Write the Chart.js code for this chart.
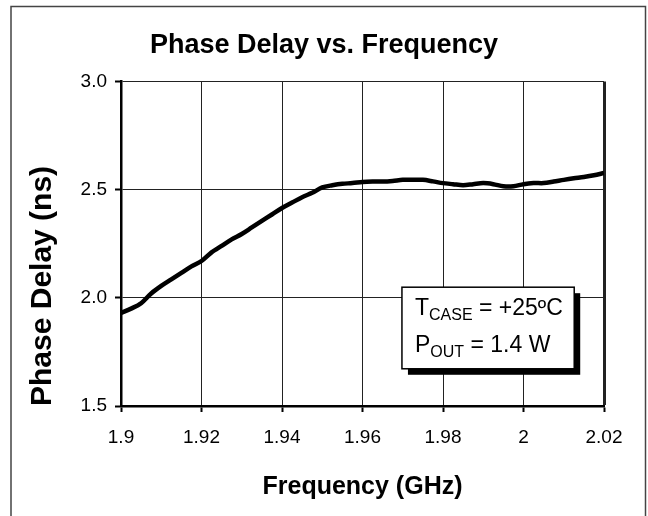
<!DOCTYPE html>
<html>
<head>
<meta charset="utf-8">
<script src="https://cdn.jsdelivr.net/npm/chart.js@4/dist/chart.umd.min.js"></script>
<style>
  html, body { margin: 0; padding: 0; background: #fff; }
  #wrap { width: 648px; height: 516px; position: relative; }
</style>
</head>
<body>
<div id="wrap"><canvas id="chart" width="648" height="516"></canvas></div>
<script>
// ---- data ----
const freqGHz = [
    1.9000, 1.9025, 1.9050, 1.9075, 1.9100, 1.9125, 1.9150, 1.9175, 1.9200, 1.9225,
    1.9250, 1.9275, 1.9300, 1.9325, 1.9350, 1.9375, 1.9400, 1.9425, 1.9450, 1.9475,
    1.9500, 1.9525, 1.9550, 1.9575, 1.9600, 1.9625, 1.9650, 1.9675, 1.9700, 1.9725,
    1.9750, 1.9775, 1.9800, 1.9825, 1.9850, 1.9875, 1.9900, 1.9925, 1.9950, 1.9975,
    2.0000, 2.0025, 2.0050, 2.0075, 2.0100, 2.0125, 2.0150, 2.0175, 2.0200
];
const delayNs = [
    1.930, 1.950, 1.975, 2.020, 2.055, 2.085, 2.115, 2.145, 2.170, 2.210,
    2.240, 2.270, 2.295, 2.325, 2.355, 2.385, 2.415, 2.440, 2.465, 2.485,
    2.510, 2.520, 2.527, 2.530, 2.535, 2.537, 2.537, 2.540, 2.545, 2.545,
    2.545, 2.538, 2.530, 2.525, 2.520, 2.525, 2.530, 2.525, 2.515, 2.515,
    2.525, 2.530, 2.530, 2.537, 2.545, 2.552, 2.558, 2.566, 2.577
];
const xTickLabels = ['1.9', '1.92', '1.94', '1.96', '1.98', '2', '2.02'];
const yTickLabels = ['1.5', '2.0', '2.5', '3.0'];

const FONT = "'Liberation Sans', Arial, sans-serif";

// ---- frame + annotation box ----
const decorPlugin = {
    id: 'decor',
    beforeDraw(chart) {
        const ctx = chart.ctx;
        ctx.save();
        ctx.fillStyle = '#fff';
        ctx.fillRect(0, 0, chart.width, chart.height);
        ctx.strokeStyle = '#444';
        ctx.lineWidth = 1.5;
        ctx.strokeRect(11, 6.5, 634.5, 520);
        ctx.restore();
    },
    afterDraw(chart) {
        const ctx = chart.ctx;
        const xs = chart.scales.x, ys = chart.scales.y;
        const left = xs.getPixelForValue(1.9698), right = xs.getPixelForValue(2.0126);
        const top = ys.getPixelForValue(2.049), bottom = ys.getPixelForValue(1.672);
        ctx.save();
        // shadow
        ctx.fillStyle = '#000';
        ctx.fillRect(left + 6, top + 6, right - left, bottom - top);
        ctx.fillStyle = '#fff';
        ctx.fillRect(left, top, right - left, bottom - top);
        ctx.strokeStyle = '#000';
        ctx.lineWidth = 1.5;
        ctx.strokeRect(left, top, right - left, bottom - top);

        const big = "23px " + FONT, small = "16px " + FONT;
        ctx.fillStyle = '#000';
        ctx.textBaseline = 'alphabetic';
        ctx.textAlign = 'left';
        const rows = [['T', 'CASE', ' = +25\u00BAC', 28], ['P', 'OUT', ' = 1.4 W', 65]];
        rows.forEach(r => {
            let x = left + 13;
            const base = top + r[3];
            ctx.font = big; ctx.fillText(r[0], x, base); x += ctx.measureText(r[0]).width;
            ctx.font = small; ctx.fillText(r[1], x, base + 5); x += ctx.measureText(r[1]).width;
            ctx.font = big; ctx.fillText(r[2], x, base);
        });
        ctx.restore();
    }
};

new Chart(document.getElementById('chart'), {
    type: 'line',
    data: {
        datasets: [{
            data: freqGHz.map((f, i) => ({ x: f, y: delayNs[i] })),
            borderColor: '#000',
            borderWidth: 4.5,
            pointRadius: 0,
            tension: 0.3,
            fill: false
        }]
    },
    options: {
        responsive: false,
        animation: false,
        devicePixelRatio: 1,
        layout: { padding: 0 },
        plugins: {
            legend: { display: false },
            tooltip: { enabled: false },
            title: {
                display: true,
                text: 'Phase Delay vs. Frequency',
                color: '#000',
                font: { family: FONT, size: 27, weight: 'bold' },
                padding: { top: 29, bottom: 20 }
            }
        },
        scales: {
            x: {
                type: 'linear',
                min: 1.9, max: 2.02,
                afterBuildTicks: s => { s.ticks = xTickLabels.map(v => ({ value: parseFloat(v) })); },
                afterFit: s => { s.height = 110; },
                ticks: {
                    color: '#000',
                    font: { family: FONT, size: 19 },
                    padding: 14,
                    maxRotation: 0,
                    callback: (v, i) => xTickLabels[i]
                },
                grid: {
                    color: '#222',
                    lineWidth: c => (c.index === xTickLabels.length - 1 ? 3 : 1),
                    tickLength: 6,
                    tickColor: '#000',
                    tickWidth: 2
                },
                border: { display: true, color: '#000', width: 2.5 },
                title: {
                    display: true,
                    text: 'Frequency (GHz)',
                    color: '#000',
                    font: { family: FONT, size: 25, weight: 'bold' },
                    padding: { top: 0, bottom: 14 }
                }
            },
            y: {
                type: 'linear',
                min: 1.5, max: 3.0,
                afterBuildTicks: s => { s.ticks = yTickLabels.map(v => ({ value: parseFloat(v) })); },
                afterFit: s => { s.width = 121; },
                ticks: {
                    color: '#000',
                    font: { family: FONT, size: 19 },
                    padding: 8,
                    callback: (v, i) => yTickLabels[i]
                },
                grid: {
                    color: '#222',
                    lineWidth: 1,
                    tickLength: 6,
                    tickColor: '#000',
                    tickWidth: 2
                },
                border: { display: true, color: '#000', width: 2.5 },
                title: {
                    display: true,
                    text: 'Phase Delay (ns)',
                    align: 'start',
                    color: '#000',
                    font: { family: FONT, size: 30, weight: 'bold' },
                    padding: { top: 25, bottom: 0 }
                }
            },
            // empty right-hand spacer so the plot ends at 2.02 where the reference does
            spacer: {
                type: 'linear',
                position: 'right',
                afterFit: s => { s.width = 44; },
                ticks: { display: false },
                grid: { display: false },
                border: { display: false },
                title: { display: false }
            }
        }
    },
    plugins: [decorPlugin]
});
</script>
</body>
</html>
